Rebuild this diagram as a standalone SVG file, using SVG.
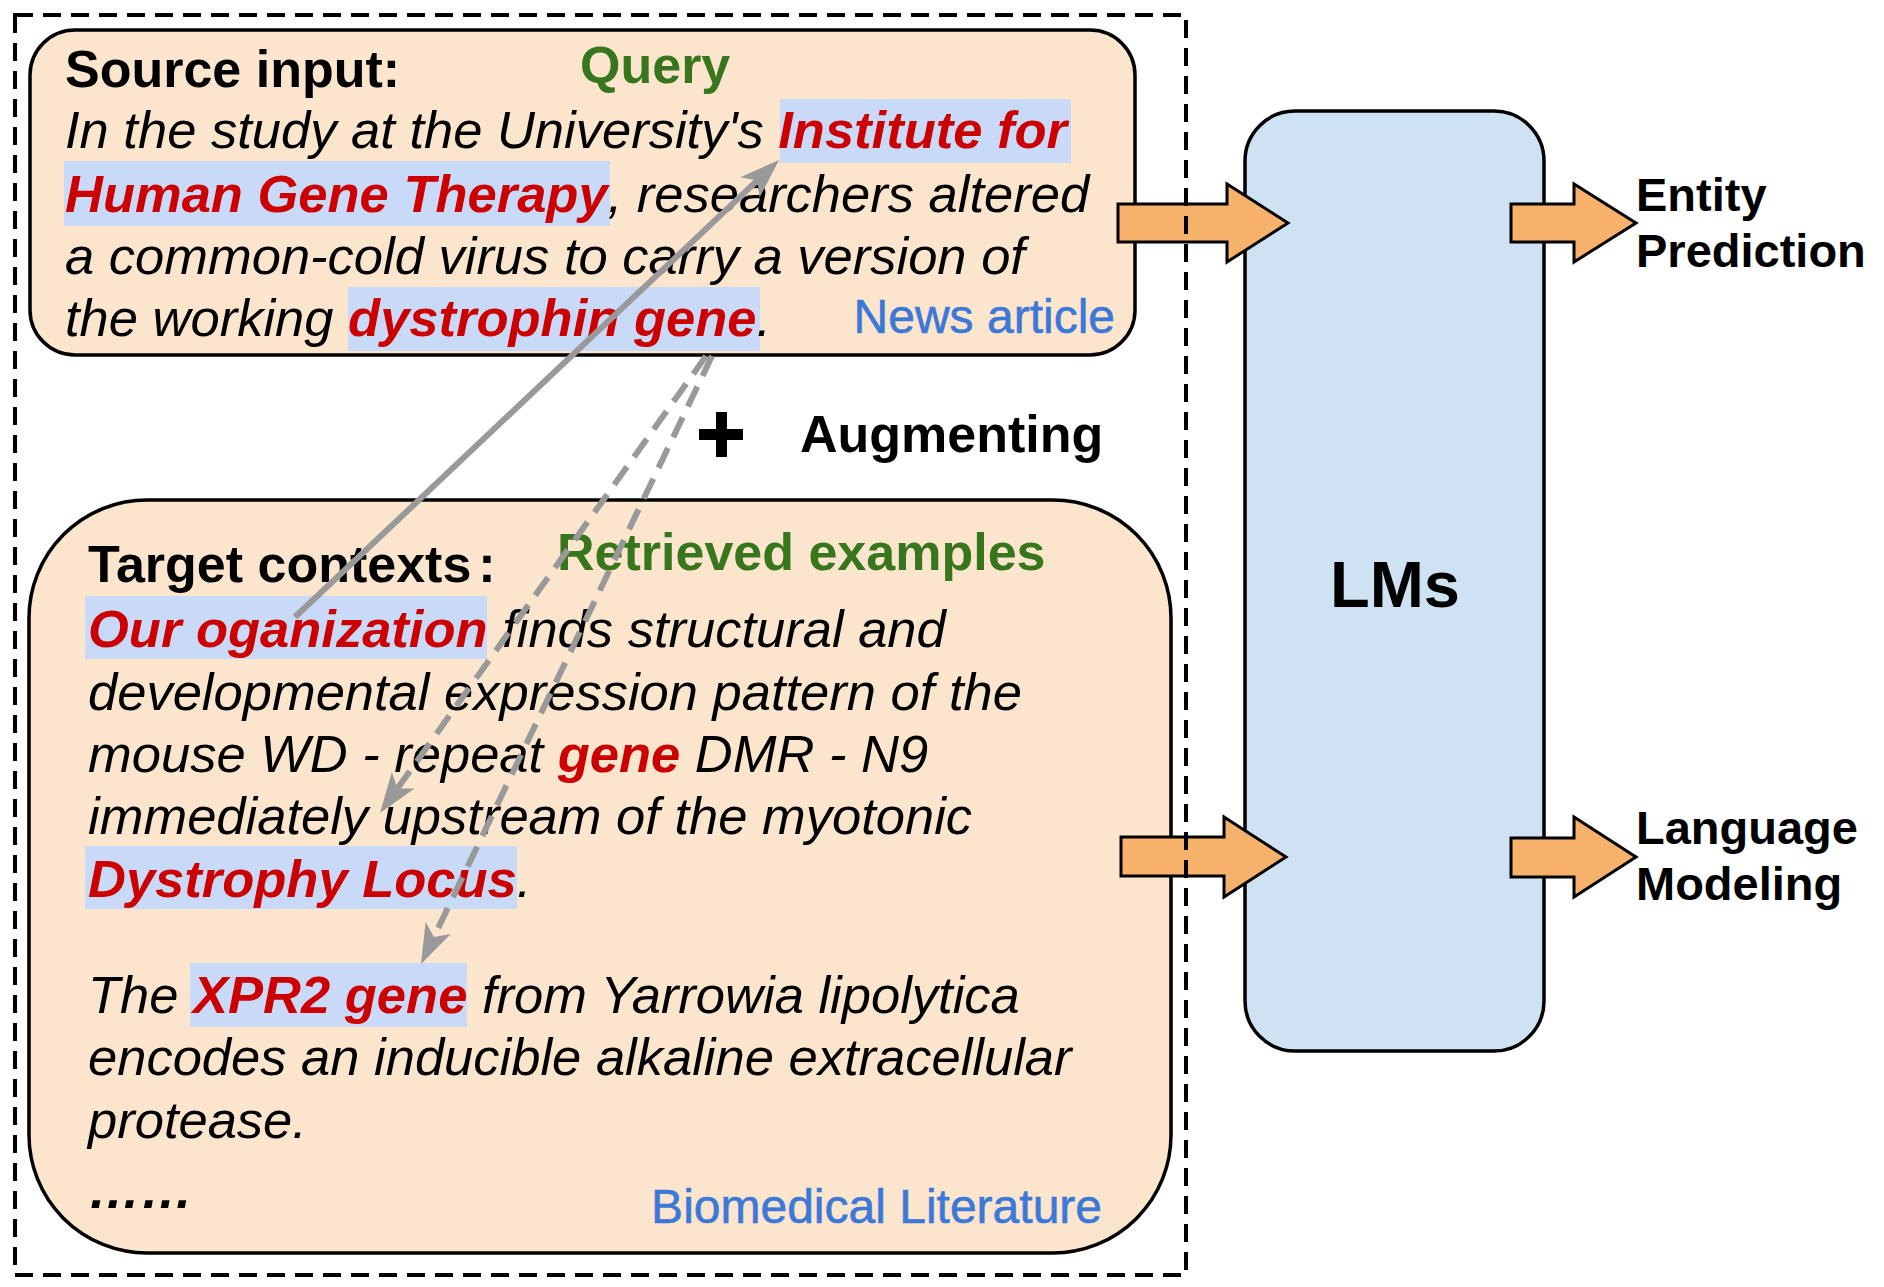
<svg xmlns="http://www.w3.org/2000/svg" width="1884" height="1287" viewBox="0 0 1884 1287">
<style>
text{font-family:"Liberation Sans",Arial,sans-serif;}
.body{font-size:52.5px;font-style:italic;fill:#000;}
.ent{font-weight:bold;fill:#cc0000;}
.hdr{font-size:52px;font-weight:bold;fill:#000;}
.green{font-size:52px;font-weight:bold;fill:#38761d;}
.tag{font-size:48px;fill:#3c78d8;stroke:#3c78d8;stroke-width:0.6;}
.hl{fill:#c9daf8;}
.box{fill:#fce5cd;stroke:#000;stroke-width:3.5;}
.oarrow{fill:#f6b26b;stroke:#000;stroke-width:3;stroke-linejoin:miter;}
.out{font-size:47px;font-weight:bold;fill:#000;}
.conn{stroke:#999;stroke-width:6;fill:none;}
.dash{stroke-dasharray:22 12;}
</style>
<defs>
<marker id="ah" markerUnits="userSpaceOnUse" viewBox="-42 -16 64 32" markerWidth="64" markerHeight="32" refX="-20" refY="0" orient="auto">
<path d="M0,0 L-40,-14 L-30,0 L-40,14 Z" fill="#999"/>
</marker>
</defs>
<rect width="1884" height="1287" fill="#fff"/>

<g id="source">
<rect class="box" x="30" y="30" width="1105" height="325" rx="45" ry="45"/>
<rect class="hl" x="780" y="99" width="291" height="64"/>
<rect class="hl" x="64" y="161" width="546" height="65"/>
<rect class="hl" x="348" y="287" width="412" height="64"/>
<text class="hdr" x="65" y="87">Source input:</text>
<text class="green" x="580" y="83">Query</text>
<text class="body" x="65" y="148">In the study at the University's <tspan class="ent">Institute for</tspan></text>
<text class="body" x="65" y="212"><tspan class="ent">Human Gene Therapy</tspan>, researchers altered</text>
<text class="body" x="65" y="274">a common-cold virus to carry a version of</text>
<text class="body" x="65" y="336">the working <tspan class="ent">dystrophin gene</tspan>.</text>
<text class="tag" x="1115" y="333" text-anchor="end">News article</text>
</g>

<g id="augment">
<rect x="716" y="412" width="11" height="45" fill="#000"/>
<rect x="699" y="429" width="44" height="11" fill="#000"/>
<text class="hdr" x="800" y="452">Augmenting</text>
</g>

<g id="target">
<rect class="box" x="29" y="500" width="1142" height="753" rx="118" ry="118"/>
<rect class="hl" x="85" y="596" width="402" height="63"/>
<rect class="hl" x="85" y="846" width="432" height="63"/>
<rect class="hl" x="190" y="963" width="277" height="64"/>
<text class="hdr" x="88" y="582">Target contexts<tspan dx="7">:</tspan></text>
<text class="green" x="557" y="570">Retrieved examples</text>
<text class="body" x="88" y="647"><tspan class="ent">Our oganization</tspan> finds structural and</text>
<text class="body" x="88" y="710">developmental expression pattern of the</text>
<text class="body" x="88" y="772">mouse WD - repeat <tspan class="ent">gene</tspan> DMR - N9</text>
<text class="body" x="88" y="834">immediately upstream of the myotonic</text>
<text class="body" x="88" y="897"><tspan class="ent">Dystrophy Locus</tspan>.</text>
<text class="body" x="88" y="1013">The <tspan class="ent">XPR2 gene</tspan> from Yarrowia lipolytica</text>
<text class="body" x="88" y="1075">encodes an inducible alkaline extracellular</text>
<text class="body" x="88" y="1138">protease.</text>
<text class="body" x="88" y="1208" font-weight="bold">……</text>
<text class="tag" x="1102" y="1223" text-anchor="end">Biomedical Literature</text>
</g>

<g id="lms">
<rect x="1245" y="111" width="299" height="940" rx="50" ry="50" fill="#cfe2f3" stroke="#000" stroke-width="3.5"/>
<text x="1395" y="607" font-size="65" font-weight="bold" text-anchor="middle">LMs</text>
</g>

<g id="entity">
<text class="out" x="1636" y="211">Entity</text>
<text class="out" x="1636" y="267">Prediction</text>
</g>

<g id="lm-out">
<text class="out" x="1636" y="844">Language</text>
<text class="out" x="1636" y="900">Modeling</text>
</g>

<g id="connectors">
<polygon class="oarrow" points="1118,204 1227,204 1227,184 1288,223 1227,262 1227,242 1118,242"/>
<polygon class="oarrow" points="1121,837 1224,837 1224,817 1286,857 1224,897 1224,876 1121,876"/>
<polygon class="oarrow" points="1511,204 1574,204 1574,184 1636,223 1574,262 1574,242 1511,242"/>
<polygon class="oarrow" points="1511,838 1574,838 1574,817 1636,857 1574,897 1574,877 1511,877"/>
<line class="conn" x1="295" y1="617" x2="764.5" y2="173.7" marker-end="url(#ah)"/>
<line class="conn dash" x1="706" y1="356" x2="391.6" y2="796.7" marker-end="url(#ah)"/>
<line class="conn dash" x1="712" y1="356" x2="429.6" y2="946" marker-end="url(#ah)"/>
</g>

<rect id="frame" x="15" y="15" width="1171" height="1260" fill="none" stroke="#000" stroke-width="4" stroke-dasharray="18 10"/>
</svg>
